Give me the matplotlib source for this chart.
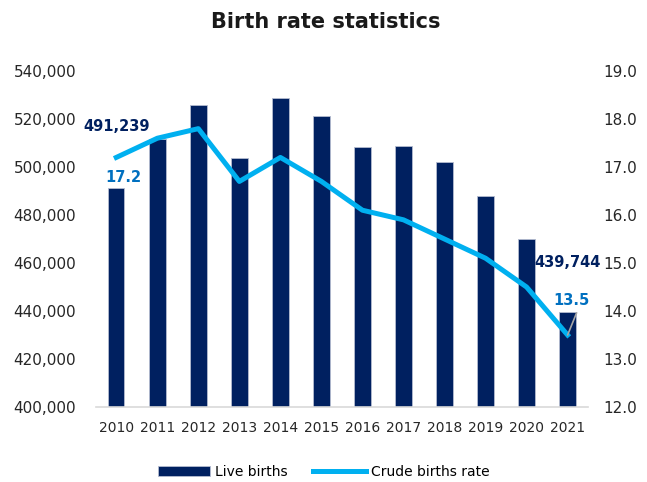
import matplotlib.pyplot as plt
import numpy as np

years = ["2010", "2011", "2012", "2013", "2014", "2015",
         "2016", "2017", "2018", "2019", "2020", "2021"]
live_births = [491239, 511600, 526000, 503900, 528600, 521100,
               508200, 508700, 501900, 488000, 470200, 439744]
crude_rate = [17.2, 17.6, 17.8, 16.7, 17.2, 16.7,
              16.1, 15.9, 15.5, 15.1, 14.5, 13.5]

NAVY = "#002060"
SKY = "#00B0F0"
BLUE = "#0070C0"

fig = plt.figure(figsize=(6.47, 4.82), dpi=100)
ax = fig.add_axes([0.148, 0.1556, 0.761, 0.697])
ax2 = ax.twinx()

x = np.arange(len(years))
bars = ax.bar(x, live_births, width=0.4, color=NAVY, edgecolor="#B4BCD0",
              linewidth=0.6, label="Live births", zorder=2)
line, = ax2.plot(x, crude_rate, color=SKY, lw=3.6, solid_joinstyle="round",
                 label="Crude births rate", zorder=3)

ax.set_xlim(-0.5, len(years) - 0.5)
ax.set_ylim(400000, 540000)
ax.set_yticks(range(400000, 540001, 20000))
ax.set_yticklabels([f"{v:,}" for v in range(400000, 540001, 20000)])
ax2.set_ylim(12.0, 19.0)
ax2.set_yticks(np.arange(12, 19.5, 1.0))
ax2.set_yticklabels([f"{v:.1f}" for v in np.arange(12, 19.5, 1.0)])
ax.set_xticks(x)
ax.set_xticklabels(years, fontsize=10)

for a in (ax, ax2):
    for s in a.spines.values():
        s.set_visible(False)
    a.tick_params(length=0)
ax.spines["bottom"].set_visible(True)
ax.spines["bottom"].set_color("#D9D9D9")
ax.spines["bottom"].set_linewidth(1.2)
ax.tick_params(axis="y", labelsize=11, pad=14, labelcolor="#262626")
ax.tick_params(axis="x", pad=10, labelcolor="#262626")
ax2.tick_params(axis="y", labelsize=11, pad=11, labelcolor="#262626")

# value labels for the first and last year
lab = dict(textcoords="offset points", ha="center", va="center",
           fontsize=10.5, fontweight="bold")
ax.annotate(f"{live_births[0]:,}", xy=(0, live_births[0]), xytext=(0, 44),
            color=NAVY, **lab)
ax.annotate(f"{live_births[-1]:,}", xy=(11, live_births[-1]), xytext=(0, 35.5),
            color=NAVY, **lab)
ax2.annotate(f"{crude_rate[0]}", xy=(0, crude_rate[0]), xytext=(5, -14.5),
             color=BLUE, **lab)
ax2.annotate(f"{crude_rate[-1]}", xy=(11, crude_rate[-1]), xytext=(3, 25),
             color=BLUE, **lab)
ax2.annotate("", xy=(11, crude_rate[-1]), xytext=(6.5, 16),
             textcoords="offset points",
             arrowprops=dict(arrowstyle="-", color="#A6A6A6", lw=1.2,
                             shrinkA=0, shrinkB=0))

fig.suptitle("Birth rate statistics", x=0.503, y=0.975, fontsize=15,
             fontweight="bold", color="#1a1a1a")

fig.legend(handles=[bars, line], loc="center", bbox_to_anchor=(0.5, 0.021),
           ncol=2, frameon=False, prop={"size": 10},
           handlelength=3.75, handleheight=0.65, columnspacing=1.87,
           handletextpad=0.36)

plt.savefig("out.png", dpi=100)
